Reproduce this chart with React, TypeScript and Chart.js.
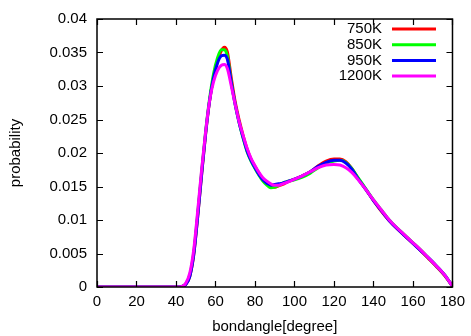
import React, { useEffect, useRef } from "react";
import { Chart, registerables } from "chart.js";

Chart.register(...registerables);

const angles = [0, 40, 43, 45, 47, 49, 51, 53, 55, 57, 59, 61, 63, 64.5, 66, 68, 70, 72, 74, 76, 78, 80, 82, 84, 86, 88, 90, 92, 94, 96, 100, 104, 108, 112, 116, 120, 123, 126, 129, 132, 136, 140, 144, 148, 152, 156, 160, 164, 168, 172, 176, 180];

const p750 = [0, 0, 0.0001, 0.0004, 0.0016, 0.0048, 0.0105, 0.0168, 0.0228, 0.0277, 0.0313, 0.0337, 0.0353, 0.0358, 0.0351, 0.0312, 0.0276, 0.0249, 0.0226, 0.0206, 0.0191, 0.0180, 0.0170, 0.0161, 0.0155, 0.0150, 0.0149, 0.0151, 0.0153, 0.0156, 0.0161, 0.0166, 0.0172, 0.0181, 0.0188, 0.0191, 0.0191, 0.0187, 0.0177, 0.0163, 0.0146, 0.0129, 0.0113, 0.0099, 0.0087, 0.0076, 0.0065, 0.0054, 0.0042, 0.0030, 0.0017, 0.0001];

const p850 = [0, 0, 0.0001, 0.0005, 0.0018, 0.0052, 0.0110, 0.0173, 0.0232, 0.0281, 0.0318, 0.0342, 0.0354, 0.0354, 0.0345, 0.0306, 0.0272, 0.0245, 0.0222, 0.0202, 0.0188, 0.0177, 0.0167, 0.0158, 0.0152, 0.0148, 0.0149, 0.0152, 0.0155, 0.0157, 0.0160, 0.0164, 0.0170, 0.0178, 0.0185, 0.0188, 0.0189, 0.0186, 0.0177, 0.0164, 0.0147, 0.0130, 0.0115, 0.0100, 0.0088, 0.0077, 0.0066, 0.0055, 0.0043, 0.0031, 0.0018, 0.0001];

const p950 = [0, 0, 0.0001, 0.0004, 0.0016, 0.0049, 0.0106, 0.0169, 0.0229, 0.0278, 0.0312, 0.0334, 0.0345, 0.0346, 0.0340, 0.0305, 0.0272, 0.0245, 0.0223, 0.0203, 0.0189, 0.0178, 0.0168, 0.0160, 0.0155, 0.0152, 0.0153, 0.0154, 0.0155, 0.0157, 0.0161, 0.0166, 0.0172, 0.0180, 0.0186, 0.0189, 0.0189, 0.0185, 0.0176, 0.0162, 0.0146, 0.0129, 0.0114, 0.0099, 0.0087, 0.0076, 0.0065, 0.0054, 0.0043, 0.0031, 0.0018, 0.0001];

const p1200 = [0, 0, 0.0001, 0.0006, 0.0021, 0.0056, 0.0114, 0.0176, 0.0232, 0.0278, 0.0306, 0.0323, 0.0331, 0.0332, 0.0326, 0.0300, 0.0272, 0.0246, 0.0226, 0.0207, 0.0192, 0.0181, 0.0171, 0.0163, 0.0158, 0.0154, 0.0152, 0.0152, 0.0154, 0.0156, 0.0161, 0.0166, 0.0172, 0.0178, 0.0182, 0.0183, 0.0182, 0.0178, 0.0171, 0.0161, 0.0146, 0.0130, 0.0115, 0.0100, 0.0088, 0.0077, 0.0066, 0.0055, 0.0043, 0.0031, 0.0018, 0.0001];

const seriesLabels = ["750K", "850K", "950K", "1200K"];
const seriesColors = ["#ff0000", "#00ff00", "#0000ff", "#ff00ff"];
const seriesValues = [p750, p850, p950, p1200];

const xTitle = "bondangle[degree]";
const yTitle = "probability";

const FONT = "'Liberation Sans', Arial, sans-serif";

const framePlugin = {
  id: "gnuFrame",
  afterDraw(chart: any) {
    const { ctx, chartArea, scales } = chart;
    const { left, right, top, bottom } = chartArea;
    const xs = scales.x;
    const ys = scales.y;
    ctx.save();
    ctx.strokeStyle = "#000";
    ctx.lineWidth = 1.5;
    ctx.strokeRect(left, top, right - left, bottom - top);
    ctx.lineWidth = 1.2;
    const tl = 6;
    ctx.beginPath();
    xs.ticks.forEach((t: any) => {
      const px = Math.round(xs.getPixelForValue(t.value)) + 0.5;
      ctx.moveTo(px, bottom);
      ctx.lineTo(px, bottom - tl);
      ctx.moveTo(px, top);
      ctx.lineTo(px, top + tl);
    });
    ys.ticks.forEach((t: any) => {
      const py = Math.round(ys.getPixelForValue(t.value)) + 0.5;
      ctx.moveTo(left, py);
      ctx.lineTo(left + tl, py);
      ctx.moveTo(right, py);
      ctx.lineTo(right - tl, py);
    });
    ctx.stroke();

    // axis titles
    ctx.fillStyle = "#000";
    ctx.font = `15px ${FONT}`;
    ctx.textAlign = "center";
    ctx.textBaseline = "middle";
    ctx.fillText(xTitle, (left + right) / 2, 327);
    ctx.save();
    ctx.translate(16, (top + bottom) / 2);
    ctx.rotate(-Math.PI / 2);
    ctx.fillText(yTitle, 0, 0);
    ctx.restore();

    // legend
    ctx.font = `15px ${FONT}`;
    ctx.textAlign = "right";
    seriesLabels.forEach((lab, i) => {
      const y = 29 + i * 15.7;
      ctx.fillStyle = "#000";
      ctx.fillText(lab, 382, y);
      ctx.strokeStyle = seriesColors[i];
      ctx.lineWidth = 3;
      ctx.beginPath();
      ctx.moveTo(392, y);
      ctx.lineTo(436, y);
      ctx.stroke();
    });
    ctx.restore();
  },
};

export default function App() {
  const ref = useRef<HTMLCanvasElement | null>(null);
  useEffect(() => {
    if (!ref.current) return;
    const datasets = seriesValues.map((vals, i) => ({
      label: seriesLabels[i],
      data: angles.map((a, j) => ({ x: a, y: vals[j] })),
      borderColor: seriesColors[i],
      backgroundColor: seriesColors[i],
      borderWidth: 3,
      pointRadius: 0,
      showLine: true,
      fill: false,
      cubicInterpolationMode: "monotone" as const,
      order: 4 - i,
    }));
    const chart = new Chart(ref.current, {
      type: "scatter",
      data: { datasets },
      options: {
        animation: false,
        responsive: false,
        devicePixelRatio: 1,
        layout: { padding: { top: 14, right: 16, left: 0, bottom: 0 } },
        plugins: { legend: { display: false }, tooltip: { enabled: false } },
        scales: {
          x: {
            type: "linear",
            min: 0,
            max: 180,
            ticks: {
              stepSize: 20,
              color: "#000",
              font: { family: FONT, size: 15 },
              padding: 6,
              maxRotation: 0,
            },
            grid: { display: false, drawTicks: false },
            border: { display: false },
            afterFit: (s: any) => {
              s.height = 49;
            },
          },
          y: {
            type: "linear",
            min: 0,
            max: 0.04,
            ticks: {
              stepSize: 0.005,
              color: "#000",
              font: { family: FONT, size: 15 },
              padding: 10,
              callback: (v: any) => String(Number(Number(v).toFixed(3))),
            },
            grid: { display: false, drawTicks: false },
            border: { display: false },
            afterFit: (s: any) => {
              s.width = 97;
            },
          },
        },
      },
      plugins: [framePlugin],
    });
    return () => chart.destroy();
  }, []);
  return (
    <div style={{ position: "absolute", left: 0, top: 0, width: 471, height: 336, background: "#fff" }}>
      <canvas ref={ref} width={471} height={336} />
    </div>
  );
}
